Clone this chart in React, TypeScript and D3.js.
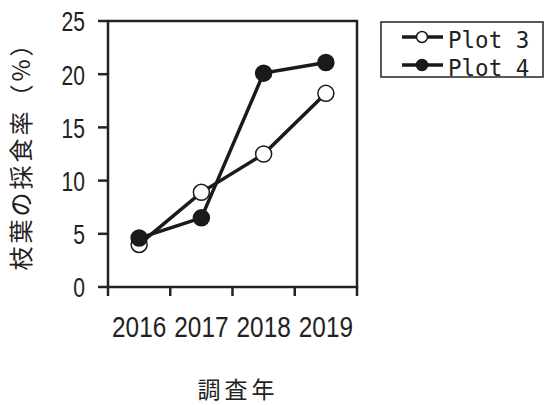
import React from "react";
import * as d3 from "d3";

// Survey years and browsing rate (%) of branches and leaves per plot
const years = ["2016", "2017", "2018", "2019"];
const plot3 = [4.0, 8.9, 12.5, 18.2];
const plot4 = [4.6, 6.5, 20.1, 21.1];
const yTicks = [0, 5, 10, 15, 20, 25];
const seriesNames = ["Plot 3", "Plot 4"];

const W = 545;
const H = 405;
const left = 108;
const right = 357;
const top = 21;
const bottom = 287;

const NUM_FONT = "'Liberation Sans', Arial, sans-serif";
const CJK_FONT = "'Noto Sans CJK JP', 'Noto Sans CJK SC', sans-serif";
const NARROW = 0.78;

export default function App() {
  const x = d3.scaleBand<string>().domain(years).range([left, right]);
  const y = d3.scaleLinear().domain([0, 25]).range([bottom, top]);
  const cx = (d: string) => (x(d) as number) + x.bandwidth() / 2;

  const line = d3
    .line<number>()
    .x((_, i) => cx(years[i]))
    .y((v) => y(v));

  const bounds = [...years.map((d) => x(d) as number), right];

  const series = [
    { name: seriesNames[0], values: plot3, fill: "#fff" },
    { name: seriesNames[1], values: plot4, fill: "#1a1a1a" },
  ];

  return (
    <svg
      width={W}
      height={H}
      style={{ position: "absolute", left: 0, top: 0, background: "#fff" }}
    >
      {/* plot frame */}
      <rect
        x={left}
        y={top}
        width={right - left}
        height={bottom - top}
        fill="none"
        stroke="#222"
        strokeWidth={2.5}
      />

      {/* y axis ticks and labels */}
      {yTicks.map((t) => (
        <g key={t}>
          <line x1={left - 10} x2={left} y1={y(t)} y2={y(t)} stroke="#222" strokeWidth={2.5} />
          <text
            transform={`translate(85, ${y(t) + 1}) scale(${NARROW}, 1)`}
            textAnchor="end"
            dominantBaseline="central"
            fontFamily={NUM_FONT}
            fontSize={27}
            fill="#222"
          >
            {t}
          </text>
        </g>
      ))}

      {/* x axis ticks at category boundaries */}
      {bounds.map((b, i) => (
        <line key={i} x1={b} x2={b} y1={bottom} y2={bottom + 9} stroke="#222" strokeWidth={2.5} />
      ))}
      {years.map((d) => (
        <text
          key={d}
          transform={`translate(${cx(d)}, 337) scale(0.84, 1)`}
          textAnchor="middle"
          fontFamily={NUM_FONT}
          fontSize={29}
          fill="#222"
        >
          {d}
        </text>
      ))}

      {/* series */}
      {series.map((s) => (
        <g key={s.name}>
          <path d={line(s.values) || ""} fill="none" stroke="#1a1a1a" strokeWidth={3.5} />
          {s.values.map((v, i) => (
            <circle
              key={i}
              cx={cx(years[i])}
              cy={y(v)}
              r={8}
              fill={s.fill}
              stroke="#1a1a1a"
              strokeWidth={1.5}
            />
          ))}
        </g>
      ))}

      {/* axis titles */}
      <text
        transform={`translate(30, 150) rotate(-90)`}
        textAnchor="middle"
        fontFamily={CJK_FONT}
        fontSize={24}
        letterSpacing={3}
        fill="#222"
      >
        枝葉の採食率（%）
      </text>
      <text
        x={238}
        y={398}
        textAnchor="middle"
        fontFamily={CJK_FONT}
        fontSize={23}
        letterSpacing={4}
        fill="#222"
      >
        調査年
      </text>

      {/* legend */}
      <rect x={381} y={22} width={162} height={55} fill="#fff" stroke="#222" strokeWidth={1.5} />
      {series.map((s, i) => {
        const ly = 37 + i * 28;
        return (
          <g key={s.name}>
            <line x1={402} x2={443} y1={ly} y2={ly} stroke="#1a1a1a" strokeWidth={3.5} />
            <circle cx={422} cy={ly} r={5.5} fill={s.fill} stroke="#1a1a1a" strokeWidth={1.5} />
            <text
              x={448}
              y={ly + 11}
              fontFamily="'DejaVu Sans Mono', 'Liberation Mono', monospace"
              fontSize={22.5}
              fill="#222"
            >
              {s.name}
            </text>
          </g>
        );
      })}
    </svg>
  );
}
